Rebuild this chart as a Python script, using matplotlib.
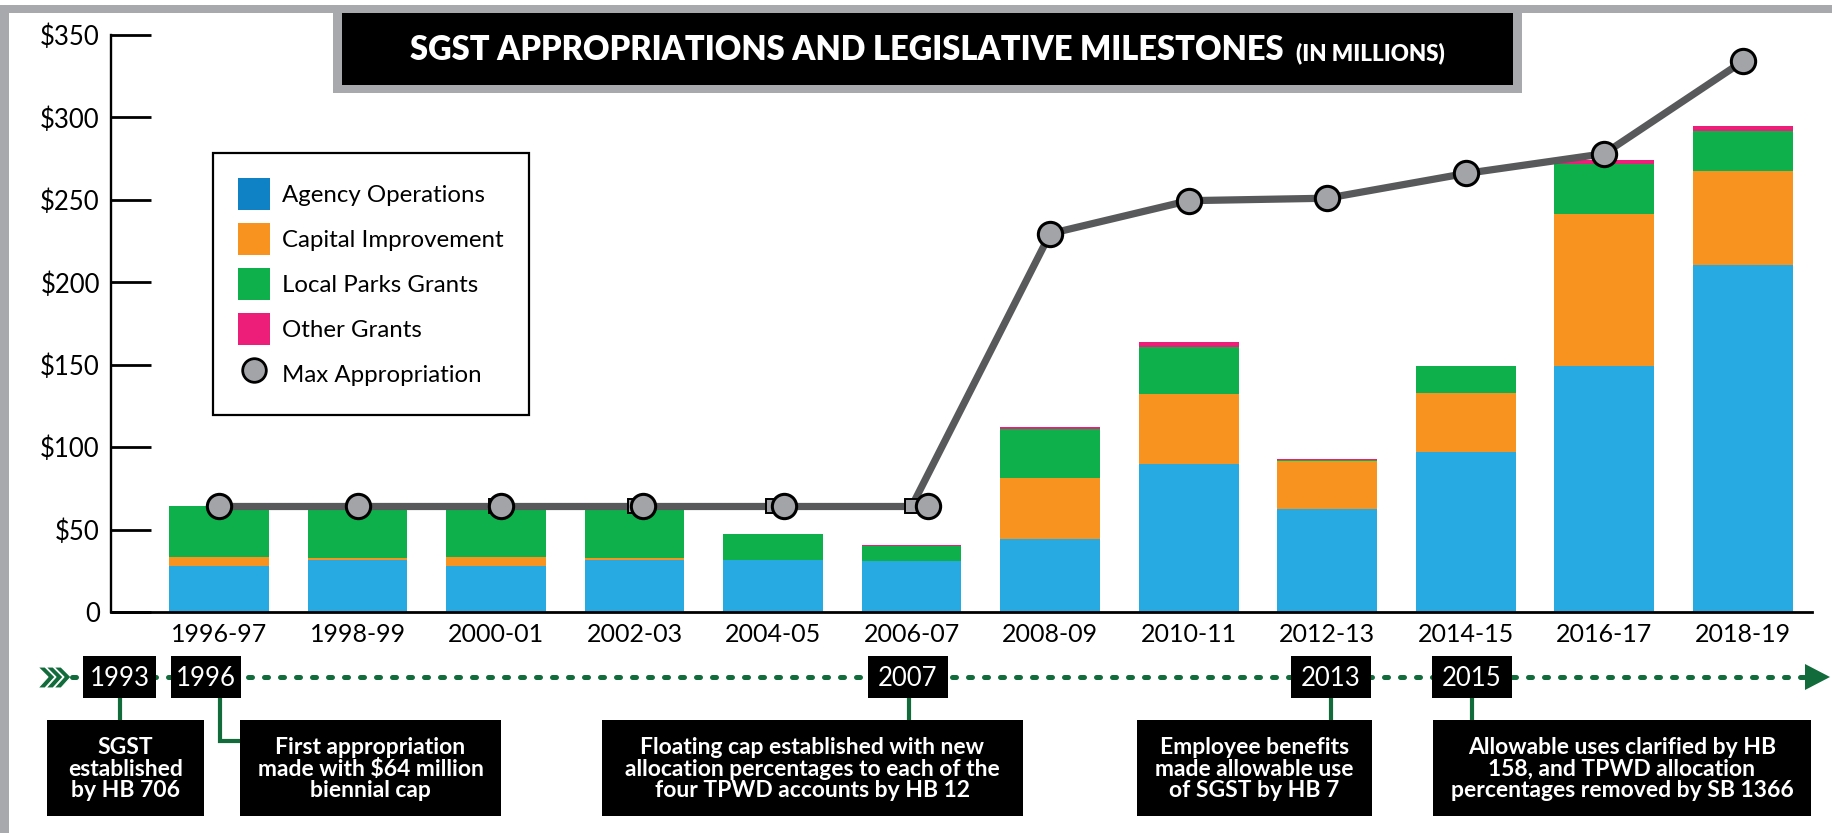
import numpy as np
import matplotlib.pyplot as plt
import matplotlib.transforms as mtransforms
from matplotlib.patches import Rectangle, Polygon, Patch
from matplotlib.lines import Line2D
from matplotlib.offsetbox import TextArea, HPacker, AnnotationBbox

plt.rcParams['font.family'] = ['Lato', 'DejaVu Sans']

# SGST appropriations by biennium ($ millions)
bienniums = ['1996-97', '1998-99', '2000-01', '2002-03', '2004-05', '2006-07',
             '2008-09', '2010-11', '2012-13', '2014-15', '2016-17', '2018-19']
agency_ops = [28, 31.5, 28, 31.5, 31.3, 31, 44.5, 90, 62.5, 97, 149, 210.5]
capital_imp = [5.5, 1.5, 5.5, 1.5, 0, 0, 36.5, 42.5, 29, 36, 92.5, 57]
local_parks = [30.5, 30, 30, 30, 15.8, 9, 30.3, 28.5, 0.5, 16, 30, 24]
other_grants = [0, 0, 0, 0, 0, 0.8, 0.8, 3, 0.6, 0.5, 2.5, 3.6]
max_approp = [64, 64, 64, 64, 64, 64, 229.5, 249.5, 251, 266, 278, 334]

yticks = [0, 50, 100, 150, 200, 250, 300, 350]
ytick_labels = ['0', '$50', '$100', '$150', '$200', '$250', '$300', '$350']

series_labels = ['Agency Operations', 'Capital Improvement', 'Local Parks Grants',
                 'Other Grants', 'Max Appropriation']

# legislative milestones on the timeline
milestone_years = ['1993', '1996', '2007', '2013', '2015']
milestone_notes = [
    'SGST\nestablished\nby HB 706',
    'First appropriation\nmade with $64 million\nbiennial cap',
    'Floating cap established with new\nallocation percentages to each of the\nfour TPWD accounts by HB 12',
    'Employee benefits\nmade allowable use\nof SGST by HB 7',
    'Allowable uses clarified by HB\n158, and TPWD allocation\npercentages removed by SB 1366',
]

BLUE = '#27a9e1'
BLUE_KEY = '#0f82c6'
ORANGE = '#f7931e'
GREEN = '#0db04b'
PINK = '#ec1e79'
LINE_GRAY = '#58595b'
MARK_GRAY = '#a2a4a7'
FRAME_GRAY = '#a7a9ac'
DKGREEN = '#126b3b'

W, H = 1833, 833
fig = plt.figure(figsize=(W / 100, H / 100), dpi=100)

# pixel-space layer for the frame, title banner and timeline
ov = fig.add_axes([0, 0, 1, 1])
ov.set_xlim(0, W)
ov.set_ylim(H, 0)
ov.axis('off')
ov.set_zorder(0)

ov.add_patch(Rectangle((0, 5), W, 8, color=FRAME_GRAY, lw=0))
ov.add_patch(Rectangle((0, 5), 9, H, color=FRAME_GRAY, lw=0))

# title banner
ov.add_patch(Rectangle((333, 5), 1522 - 333, 93 - 5, color=FRAME_GRAY, lw=0))
ov.add_patch(Rectangle((342, 13), 1513 - 342, 85 - 13, color='black', lw=0))
t_main = TextArea('SGST APPROPRIATIONS AND LEGISLATIVE MILESTONES',
                  textprops=dict(color='white', fontsize=23.5, fontweight='heavy'))
t_small = TextArea('(IN MILLIONS)',
                   textprops=dict(color='white', fontsize=16, fontweight='heavy'))
title = HPacker(children=[t_main, t_small], align='baseline', pad=0, sep=9)
ov.add_artist(AnnotationBbox(title, (927, 50), xycoords='data', frameon=False,
                             box_alignment=(0.5, 0.5)))

# chart
ax = fig.add_axes([111 / W, 1 - 612 / H, (1812 - 111) / W, (612 - 35) / H])
ax.set_zorder(1)
ax.patch.set_visible(False)

x = np.arange(len(bienniums))
bw = 0.72
b1 = np.array(agency_ops)
b2 = b1 + np.array(capital_imp)
b3 = b2 + np.array(local_parks)
ax.bar(x, agency_ops, bw, color=BLUE, lw=0, zorder=2)
ax.bar(x, capital_imp, bw, bottom=b1, color=ORANGE, lw=0, zorder=2)
ax.bar(x, local_parks, bw, bottom=b2, color=GREEN, lw=0, zorder=2)
ax.bar(x, other_grants, bw, bottom=b3, color=PINK, lw=0, zorder=2)

ax.plot(x, max_approp, color=LINE_GRAY, lw=5.2, zorder=3, solid_capstyle='butt',
        solid_joinstyle='round')
ax.plot(x, max_approp, 's', ms=9.5, mfc=MARK_GRAY, mec='black', mew=1.4, zorder=4)

# circle markers sit slightly right of the early data points
circle_shift_px = [0, 0, 5, 8, 11, 16, 0, 0, 0, 0, 0, 0]
for xi, yi, sh in zip(x, max_approp, circle_shift_px):
    tr = ax.transData + mtransforms.ScaledTranslation(sh / 100, 0, fig.dpi_scale_trans)
    ax.plot([xi], [yi], 'o', ms=17.5, mfc=MARK_GRAY, mec='black', mew=2.2,
            zorder=5, transform=tr, clip_on=False)

ax.set_xlim(-0.78, 11.5)
ax.set_ylim(0, 350)
ax.set_xticks(x)
ax.set_xticklabels(bienniums)
ax.set_yticks(yticks)
ax.set_yticklabels(ytick_labels)
ax.spines[['top', 'right']].set_visible(False)
ax.spines['left'].set_linewidth(1.7)
ax.spines['bottom'].set_linewidth(2)
ax.spines['bottom'].set_zorder(6)
ax.tick_params(axis='y', direction='in', length=29, width=2, pad=8, labelsize=18.5,
               colors='black')
ax.tick_params(axis='x', length=0, pad=8, labelsize=18, colors='black')

handles = [Patch(facecolor=BLUE_KEY, lw=0), Patch(facecolor=ORANGE, lw=0),
           Patch(facecolor=GREEN, lw=0), Patch(facecolor=PINK, lw=0),
           Line2D([], [], marker='o', ls='none', ms=17, mfc=MARK_GRAY, mec='black', mew=2)]
leg = ax.legend(handles, series_labels, loc='upper left',
                bbox_to_anchor=(213 / W, 1 - 153 / H), bbox_transform=fig.transFigure,
                frameon=True, fancybox=False, edgecolor='black', framealpha=1,
                fontsize=17.3, handlelength=1.31, handleheight=1.64, handletextpad=0.5,
                labelspacing=0.56, borderpad=1.05, borderaxespad=0)
leg.get_frame().set_linewidth(1.6)
leg.set_zorder(7)

# timeline
TL_Y = 677
ov.plot([72, 1806], [TL_Y, TL_Y], color=DKGREEN, lw=3.6, dashes=(0.8, 2.4),
        dash_capstyle='round')
ov.add_patch(Polygon([(1805, 664), (1805, 690), (1830, TL_Y)], closed=True,
                     color=DKGREEN, lw=0))
for x0 in (38, 46, 54):
    ov.add_patch(Polygon([(x0, 667), (x0 + 7, 667), (x0 + 17, TL_Y), (x0 + 7, 688),
                          (x0, 688), (x0 + 10, TL_Y)], closed=True,
                         facecolor=DKGREEN, edgecolor='white', lw=0.8))

year_cx = [120, 206, 908, 1331, 1472]
year_w = [73, 70, 80, 80, 80]
link_x = [120, 220, 909, 1331, 1472]
note_x = [(47, 204), (240, 501), (602, 1023), (1137, 1372), (1433, 1811)]
NOTE_TOP, NOTE_BOT = 720, 816

for cx, w, lx, yr in zip(year_cx, year_w, link_x, milestone_years):
    if yr == '1996':
        ov.plot([lx, lx, 240], [698, 741, 741], color=DKGREEN, lw=3, zorder=1,
                solid_joinstyle='miter')
    else:
        ov.plot([lx, lx], [698, NOTE_TOP], color=DKGREEN, lw=3, zorder=1)
    ov.add_patch(Rectangle((cx - w / 2, 656), w, 42, color='black', lw=0, zorder=2))
    ov.text(cx, TL_Y + 1, yr, color='white', ha='center', va='center', fontsize=18.5,
            zorder=3)

for (xa, xb), note in zip(note_x, milestone_notes):
    ov.add_patch(Rectangle((xa, NOTE_TOP), xb - xa, NOTE_BOT - NOTE_TOP, color='black',
                           lw=0, zorder=2))
    ov.text((xa + xb) / 2, (NOTE_TOP + NOTE_BOT) / 2 + 1, note, color='white',
            ha='center', va='center', fontsize=16.5, fontweight='bold',
            linespacing=1.05, zorder=3)

fig.savefig('out.png', dpi=100, facecolor='white')
